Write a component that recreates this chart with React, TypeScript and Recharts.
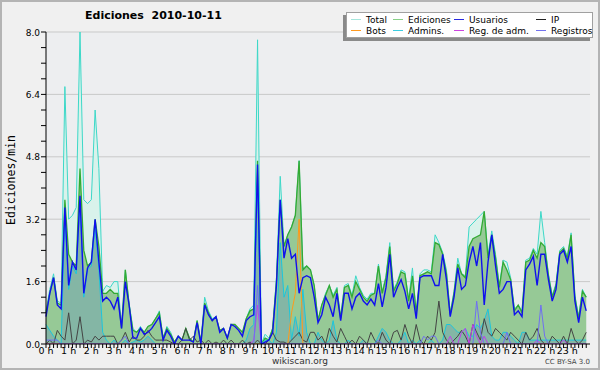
import { Area, CartesianGrid, ComposedChart, Line, XAxis, YAxis } from "recharts";

// one point every 10 minutes, 144 points for the day
const hourLabels = [
  "0 h", "1 h", "2 h", "3 h", "4 h", "5 h", "6 h", "7 h", "8 h", "9 h", "10 h", "11 h",
  "12 h", "13 h", "14 h", "15 h", "16 h", "17 h", "18 h", "19 h", "20 h", "21 h", "22 h", "23 h",
];

const total = [
  0.85, 1.4, 1.8, 1.1, 1.05, 6.6, 3.2, 3.3, 3.5, 8.0, 3.7, 3.6, 3.7, 6.0, 4.5, 1.35, 1.5, 1.45, 1.6, 1.6, 0.45, 1.9, 1.05, 0.4, 0.3,
  0.45, 0.3, 0.45, 0.5, 0.65, 0.85, 0.15, 0.45, 0.3, 0.05, 0.2, 0.1, 0.4, 0.15, 0.05, 0.6, 0.05, 1.2, 0.85, 0.65, 0.7, 0.35, 0.4, 0.15, 0.5,
  0.5, 0.4, 0.3, 0.65, 0.9, 1.0, 7.8, 0.0, 0.25, 0.15, 0.4, 1.7, 4.3, 2.5, 2.8, 3.0, 3.3, 4.7, 1.95, 2.0, 1.9, 1.5, 0.6, 1.0, 1.3,
  1.5, 1.25, 1.45, 0.7, 1.5, 1.55, 1.25, 1.75, 1.45, 1.25, 1.15, 1.3, 1.3, 2.05, 1.35, 1.75, 2.6, 1.4, 1.6, 1.9, 1.85, 1.15, 1.95, 0.8, 1.8,
  1.9, 1.9, 1.85, 2.8, 2.6, 2.35, 1.9, 0.8, 1.35, 2.2, 1.8, 1.75, 3.0, 3.1, 3.2, 3.3, 3.4, 2.3, 2.9, 2.3, 1.5, 2.15, 2.1, 1.7, 0.9,
  1.0, 0.85, 2.15, 2.2, 2.45, 2.3, 3.4, 2.6, 1.8, 1.25, 1.55, 2.4, 2.5, 2.25, 2.85, 1.25, 0.7, 1.4, 1.2,
];

const ediciones = [
  0.8, 1.3, 1.7, 1.05, 1.0, 3.7, 2.3, 2.1, 2.0, 4.5, 2.4, 2.0, 2.1, 3.2, 2.5, 1.3, 1.3, 1.4, 1.3, 1.3, 0.4, 1.9, 1.0, 0.35, 0.3,
  0.4, 0.3, 0.45, 0.5, 0.65, 0.8, 0.15, 0.4, 0.25, 0.05, 0.2, 0.1, 0.4, 0.15, 0.05, 0.6, 0.05, 1.05, 0.8, 0.6, 0.7, 0.35, 0.4, 0.15, 0.5,
  0.5, 0.4, 0.3, 0.65, 0.85, 0.9, 4.7, 0.0, 0.15, 0.1, 0.4, 1.6, 3.7, 2.5, 2.8, 3.0, 3.3, 4.7, 1.9, 2.0, 1.9, 1.5, 0.6, 1.0, 1.25,
  1.5, 1.2, 1.4, 0.65, 1.45, 1.5, 1.2, 1.6, 1.4, 1.2, 1.1, 1.25, 1.3, 2.0, 1.3, 1.7, 2.5, 1.35, 1.55, 1.85, 1.8, 1.1, 1.75, 0.8, 1.75,
  1.8, 1.85, 1.8, 2.6, 2.55, 2.3, 1.8, 0.75, 1.3, 2.05, 1.8, 1.7, 2.5, 2.7, 2.75, 2.8, 3.4, 2.2, 2.8, 2.2, 1.45, 2.1, 1.9, 1.65, 0.85,
  1.0, 0.8, 2.1, 2.15, 2.4, 2.2, 2.6, 2.5, 1.75, 1.2, 1.5, 2.35, 2.45, 2.2, 2.8, 1.2, 0.65, 1.35, 1.2,
];

const usuarios = [
  0.7, 1.3, 1.7, 1.0, 0.9, 3.5, 1.5, 2.1, 1.9, 3.8, 1.3, 1.95, 2.1, 3.2, 2.1, 1.1, 1.2, 1.1, 0.9, 1.2, 0.4, 1.6, 1.0, 0.15, 0.15,
  0.4, 0.25, 0.3, 0.4, 0.55, 0.7, 0.1, 0.35, 0.2, 0.0, 0.2, 0.1, 0.1, 0.1, 0.05, 0.55, 0.0, 1.0, 0.75, 0.6, 0.7, 0.3, 0.4, 0.15, 0.5,
  0.45, 0.35, 0.2, 0.6, 0.7, 0.75, 4.6, 0.0, 0.05, 0.1, 0.3, 1.5, 3.7, 2.2, 2.7, 2.2, 2.3, 1.3, 1.7, 1.75, 1.7, 1.2, 0.55, 0.75, 1.2,
  1.0, 0.7, 1.3, 0.6, 1.3, 1.3, 0.9, 1.2, 1.3, 1.1, 1.0, 1.15, 1.0, 1.55, 0.95, 1.45, 2.3, 1.2, 1.45, 1.65, 1.35, 0.9, 1.3, 0.65, 1.7,
  1.75, 1.75, 1.75, 1.5, 1.5, 2.3, 1.65, 0.7, 1.2, 1.95, 1.4, 1.5, 2.1, 2.5, 2.0, 2.6, 1.0, 2.1, 2.8, 2.0, 1.3, 1.4, 1.6, 1.6, 0.75,
  0.85, 0.7, 1.9, 2.05, 2.25, 1.5, 2.3, 2.3, 1.65, 1.1, 1.4, 2.3, 2.4, 2.1, 2.5, 1.1, 0.55, 1.2, 0.85,
];

const ip = [
  0.0, 0.1, 0.0, 0.35, 0.2, 0.1, 0.8, 0.0, 0.1, 0.7, 0.0, 0.1, 0.05, 0.2, 0.1, 0.2, 0.2, 0.2, 0.2, 0.0, 0.1, 0.3, 0.05, 0.2, 0.1,
  0.1, 0.2, 0.35, 0.2, 0.1, 0.1, 0.1, 0.1, 0.05, 0.0, 0.0, 0.1, 0.4, 0.1, 0.2, 0.05, 0.1, 0.0, 0.1, 0.0, 0.05, 0.0, 0.1, 0.0, 0.1,
  0.0, 0.0, 0.1, 0.0, 0.05, 0.0, 0.1, 0.0, 0.0, 0.1, 0.3, 0.1, 0.05, 0.05, 0.0, 0.1, 0.2, 0.3, 0.1, 0.05, 0.3, 0.3, 0.1, 0.2, 0.0,
  0.4, 0.2, 0.05, 0.4, 0.2, 0.0, 0.1, 0.0, 0.2, 0.1, 0.0, 0.3, 0.1, 0.0, 0.3, 0.1, 0.0, 0.3, 0.35, 0.1, 0.5, 0.2, 0.0, 0.5, 0.1,
  0.0, 0.2, 0.1, 0.3, 1.1, 0.3, 0.1, 0.0, 0.1, 0.2, 0.35, 0.2, 0.0, 0.5, 0.3, 0.1, 0.65, 0.3, 0.2, 0.4, 0.3, 0.2, 0.1, 0.3, 0.2,
  0.1, 0.0, 0.3, 0.1, 0.2, 0.4, 0.1, 0.0, 0.0, 0.2, 0.1, 0.0, 0.2, 0.0, 0.4, 0.1, 0.0, 0.1, 0.3,
];

const admins = [
  0.5, 0.35, 0.2, 0.1, 0.0, 3.3, 1.4, 2.0, 1.8, 3.6, 1.2, 1.9, 2.0, 3.0, 1.9, 0.3, 0.1, 0.0, 0.1, 0.0, 0.0, 0.1, 0.0, 0.05, 0.1,
  0.05, 0.1, 0.2, 0.1, 0.0, 0.0, 0.0, 0.0, 0.0, 0.0, 0.0, 0.0, 0.0, 0.0, 0.0, 0.0, 0.0, 0.0, 0.0, 0.0, 0.0, 0.0, 0.0, 0.0, 0.0,
  0.0, 0.0, 0.0, 0.1, 0.4, 0.5, 4.2, 0.0, 0.1, 0.1, 0.0, 0.3, 2.6, 1.2, 1.5, 0.1, 0.7, 0.2, 1.4, 0.3, 0.0, 0.0, 0.3, 0.1, 0.0,
  0.1, 0.6, 0.1, 0.0, 0.0, 0.1, 0.0, 0.0, 0.0, 0.1, 0.0, 0.0, 0.0, 0.2, 0.4, 0.3, 0.1, 0.0, 0.0, 0.1, 0.3, 0.0, 0.1, 0.0, 0.1,
  0.0, 0.0, 0.1, 0.0, 0.0, 0.1, 0.5, 0.5, 0.4, 0.3, 0.3, 0.4, 0.2, 0.2, 0.5, 0.4, 0.6, 0.9, 0.2, 0.1, 0.1, 0.3, 0.3, 0.2, 0.1,
  0.0, 0.3, 0.3, 0.1, 0.1, 0.1, 0.1, 0.1, 0.1, 0.1, 0.1, 0.1, 0.1, 0.1, 0.1, 0.1, 0.1, 0.1, 0.1,
];

const bots = [
  0, 0, 0, 0, 0, 0, 0, 0, 0, 0, 0, 0,
  0, 0, 0, 0, 0, 0, 0, 0, 0, 0, 0, 0,
  0, 0, 0, 0, 0, 0, 0, 0, 0, 0, 0, 0,
  0, 0, 0, 0, 0, 0, 0, 0, 0, 0, 0, 0,
  0, 0, 0, 0, 0, 0, 0, 0, 0, 0, 0, 0,
  0, 0, 0, 0, 0, 0.8, 1.3, 3.2, 0, 0, 0, 0,
  0, 0, 0, 0, 0, 0, 0, 0, 0, 0, 0, 0,
  0, 0, 0, 0, 0, 0, 0, 0, 0, 0, 0, 0,
  0, 0, 0, 0, 0, 0, 0, 0, 0, 0, 0, 0,
  0, 0, 0, 0, 0, 0, 0, 0, 0, 0, 0, 0,
  0, 0, 0, 0, 0, 0, 0, 0, 0, 0, 0, 0,
  0, 0, 0, 0, 0, 0, 0, 0, 0, 0, 0, 0,
];

const regAdm = [
  0, 0, 0, 0, 0, 0, 0, 0, 0, 0, 0, 0,
  0, 0, 0, 0, 0, 0, 0, 0, 0, 0, 0, 0,
  0, 0, 0, 0, 0, 0, 0, 0, 0, 0, 0, 0,
  0, 0, 0, 0, 0, 0, 0, 0, 0, 0, 0, 0,
  0, 0, 0, 0, 0, 0, 0, 0.1, 1.0, 0, 0, 0,
  0, 0, 0, 0, 0, 0, 0, 0, 0, 0, 0, 0,
  0, 0, 0, 0, 0, 0, 0, 0, 0, 0, 0, 0,
  0, 0, 0, 0, 0, 0, 0, 0, 0, 0, 0, 0,
  0, 0, 0, 0, 0, 0, 0, 0, 0, 0, 0, 0.2,
  0, 0, 0.3, 0.4, 0, 0.5, 0.2, 0, 0.2, 0, 0, 0,
  0, 0, 0, 0, 0, 0, 0, 0, 0, 0, 0.1, 0,
  0, 0, 0, 0, 0, 0.1, 0, 0, 0, 0, 0, 0,
];

const registros = [
  0.1, 0.1, 0.1, 0.1, 0, 0, 0, 0, 0, 0, 0, 0,
  0, 0, 0, 0, 0, 0, 0, 0, 0.1, 0.2, 0, 0,
  0, 0, 0, 0, 0, 0, 0, 0, 0, 0, 0, 0,
  0, 0, 0, 0, 0, 0, 0, 0, 0, 0, 0, 0,
  0, 0, 0, 0, 0, 0, 0, 0, 1.5, 0, 0, 0,
  0, 0, 0, 0, 0, 0, 0, 0, 0, 0, 0, 0,
  0, 0, 0, 0, 0, 0, 0, 0, 0, 0, 0, 0,
  0, 0, 0, 0, 0.1, 0, 0, 0, 0, 0, 0, 0,
  0, 0, 0, 0, 0.2, 0.1, 0.2, 0.2, 0, 0, 0, 0,
  0, 0, 0, 0, 0, 0, 1.1, 0.3, 0, 0, 0, 0,
  0, 0, 0.3, 0, 0, 0, 0, 0, 0, 0, 0, 1.0,
  0.2, 0, 0, 0, 0, 0, 0, 0, 0, 0, 0, 0,
];

const yTicks = [0, 0.4, 0.8, 1.2, 1.6, 2.0, 2.4, 2.8, 3.2, 3.6, 4.0, 4.4, 4.8, 5.2, 5.6, 6.0, 6.4, 6.8, 7.2, 7.6, 8.0];
const yLabelled = [0, 1.6, 3.2, 4.8, 6.4, 8.0];
const gridValues = [1.6, 3.2, 4.8, 6.4, 8.0];
const xTicks = total.map((_, i) => i);

const legendItems = [
  { name: "Total", color: "#a6e6dc" },
  { name: "Ediciones", color: "#88d088" },
  { name: "Usuarios", color: "#2a2ae0" },
  { name: "IP", color: "#222222" },
  { name: "Bots", color: "#ff9a20" },
  { name: "Admins.", color: "#3ccce0" },
  { name: "Reg. de adm.", color: "#cc44e0" },
  { name: "Registros", color: "#7272ee" },
];
const legendCols = [4, 46, 107, 189];

const data = total.map((t, i) => ({
  i,
  total: t,
  ediciones: ediciones[i],
  usuarios: usuarios[i],
  ip: ip[i],
  admins: admins[i],
  bots: bots[i],
  regAdm: regAdm[i],
  registros: registros[i],
}));

const FONT = "DejaVu Sans";

function XTick({ x, y, payload }: any) {
  const v = payload.value as number;
  if (v % 6 !== 0) return <g />;
  return (
    <text x={x} y={y} dy={6} textAnchor="middle" fontSize={9.5} fontFamily={FONT} fill="#000">
      {hourLabels[v / 6]}
    </text>
  );
}

function YTick({ x, y, payload }: any) {
  const v = payload.value as number;
  if (!yLabelled.some((l) => Math.abs(l - v) < 1e-6)) return <g />;
  return (
    <text x={x} y={y} dy={3.5} textAnchor="end" fontSize={9} fontFamily={FONT} fill="#000">
      {v.toFixed(1)}
    </text>
  );
}

export default function App() {
  return (
    <div style={{ position: "relative", width: 600, height: 370, background: "#f0f0f0", overflow: "hidden" }}>
      <style>{"body{margin:0}"}</style>
      <div style={{ position: "absolute", left: 0, top: 0 }}>
        <ComposedChart
          width={600}
          height={370}
          data={data}
          margin={{ top: 32, right: 10, left: 0, bottom: 0 }}
        >
          <CartesianGrid
            vertical={false}
            horizontalValues={gridValues}
            stroke="#c9c9c9"
            fill="#edeef0"
          />
          <XAxis
            dataKey="i"
            type="number"
            domain={[0, 144]}
            ticks={xTicks}
            interval={0}
            height={26}
            tickSize={4}
            tickMargin={0}
            tick={<XTick />}
            axisLine={{ stroke: "#000" }}
            tickLine={{ stroke: "#000" }}
          />
          <YAxis
            type="number"
            domain={[0, 8]}
            ticks={yTicks}
            interval={0}
            width={46}
            tickSize={5}
            tickMargin={1}
            tick={<YTick />}
            axisLine={{ stroke: "#000" }}
            tickLine={{ stroke: "#000" }}
            allowDataOverflow
          />
          <Area
            type="linear"
            dataKey="total"
            stroke="#3dd8c8"
            strokeWidth={1}
            fill="#d9f2eb"
            fillOpacity={1}
            dot={false}
            activeDot={false}
            isAnimationActive={false}
          />
          <Area
            type="linear"
            dataKey="ediciones"
            stroke="#33aa33"
            strokeWidth={1.3}
            fill="#96c996"
            fillOpacity={1}
            dot={false}
            activeDot={false}
            isAnimationActive={false}
          />
          <Area
            type="linear"
            dataKey="admins"
            stroke="#1cc6dc"
            strokeWidth={1}
            fill="#3a6fe0"
            fillOpacity={0.2}
            dot={false}
            activeDot={false}
            isAnimationActive={false}
          />
          <Line type="linear" dataKey="ip" stroke="#444" strokeWidth={1} dot={false} activeDot={false} isAnimationActive={false} />
          <Line type="linear" dataKey="bots" stroke="#ff9a1a" strokeWidth={1} dot={false} activeDot={false} isAnimationActive={false} />
          <Line type="linear" dataKey="regAdm" stroke="#c040e8" strokeWidth={1} dot={false} activeDot={false} isAnimationActive={false} />
          <Line type="linear" dataKey="registros" stroke="#6f6ff2" strokeWidth={1} dot={false} activeDot={false} isAnimationActive={false} />
          <Line type="linear" dataKey="usuarios" stroke="#1010ee" strokeWidth={1.4} dot={false} activeDot={false} isAnimationActive={false} />
        </ComposedChart>
      </div>

      <div
        style={{
          position: "absolute",
          left: 85,
          top: 9,
          fontFamily: FONT,
          fontWeight: "bold",
          fontSize: 11,
          whiteSpace: "pre",
          color: "#000",
        }}
      >
        Ediciones  2010-10-11
      </div>

      <div
        style={{
          position: "absolute",
          left: 11,
          top: 180,
          transform: "translate(-50%, -50%) rotate(-90deg)",
          fontFamily: "DejaVu Sans Mono",
          fontSize: 11.5,
          whiteSpace: "nowrap",
          color: "#000",
        }}
      >
        Ediciones/min
      </div>

      <div
        style={{
          position: "absolute",
          left: 346,
          top: 12,
          width: 247,
          height: 26,
          background: "#fff",
          border: "1px solid #a0a0a0",
          boxSizing: "border-box",
          boxShadow: "-3px 3px 0 #8a8a8a",
          fontFamily: FONT,
          fontSize: 9,
          color: "#000",
        }}
      >
        {legendItems.map((it, k) => (
          <div
            key={it.name}
            style={{
              position: "absolute",
              left: legendCols[k % 4],
              top: k < 4 ? 1 : 12,
              display: "flex",
              alignItems: "center",
              height: 11,
              whiteSpace: "nowrap",
            }}
          >
            <span style={{ display: "inline-block", width: 10, height: 1, background: it.color, marginRight: 5 }} />
            {it.name}
          </div>
        ))}
      </div>

      <div
        style={{
          position: "absolute",
          left: 0,
          width: 600,
          top: 356,
          textAlign: "center",
          fontFamily: FONT,
          fontSize: 9,
          color: "#333",
        }}
      >
        wikiscan.org
      </div>
      <div
        style={{
          position: "absolute",
          right: 10,
          top: 358,
          fontFamily: FONT,
          fontSize: 7,
          color: "#444",
        }}
      >
        CC BY-SA 3.0
      </div>

      <div
        style={{
          position: "absolute",
          left: 0,
          top: 0,
          width: 600,
          height: 370,
          boxSizing: "border-box",
          border: "2px solid #b4b4b4",
          pointerEvents: "none",
        }}
      />
    </div>
  );
}
